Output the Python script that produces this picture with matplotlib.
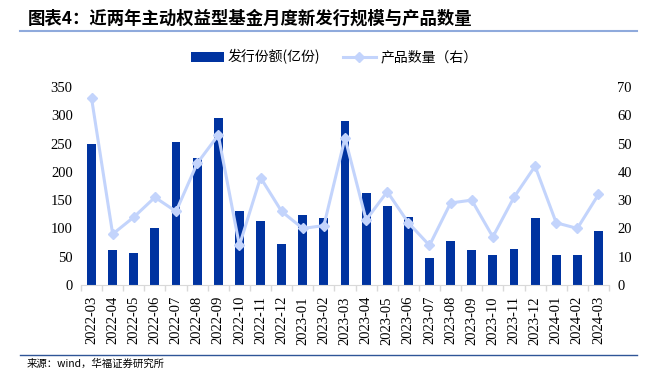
import matplotlib
matplotlib.use('Agg')
import matplotlib.pyplot as plt
from matplotlib.lines import Line2D
import numpy as np

plt.rcParams['font.family'] = ['Noto Sans CJK SC', 'DejaVu Sans']

# 数据
months = ['2022-03', '2022-04', '2022-05', '2022-06', '2022-07', '2022-08', '2022-09',
          '2022-10', '2022-11', '2022-12', '2023-01', '2023-02', '2023-03', '2023-04',
          '2023-05', '2023-06', '2023-07', '2023-08', '2023-09', '2023-10', '2023-11',
          '2023-12', '2024-01', '2024-02', '2024-03']
issue_size = [249, 62, 56, 101, 252, 225, 295, 131, 114, 73, 124, 118, 290, 162,
              139, 120, 47, 78, 61, 53, 64, 119, 53, 53, 96]
fund_count = [66, 18, 24, 31, 26, 43, 53, 14, 38, 26, 20, 21, 52, 23,
              33, 22, 14, 29, 30, 17, 31, 42, 22, 20, 32]

bar_color = '#0033A0'
line_color = '#C3D4FC'
num_font = 'Liberation Serif'

fig = plt.figure(figsize=(6.57, 3.77), dpi=100)
ax = fig.add_axes([81 / 657, 1 - 285 / 377, 528 / 657, 198 / 377])
ax2 = ax.twinx()

x = np.arange(len(months))
bars = ax.bar(x, issue_size, width=0.42, color=bar_color, zorder=2)
ln, = ax2.plot(x, fund_count, color=line_color, lw=2.2, marker='D', markersize=5,
               zorder=3)

ax.set_xlim(-0.5, len(months) - 0.5)
ax.set_ylim(0, 350)
ax.set_yticks(range(0, 351, 50))
ax2.set_ylim(0, 70)
ax2.set_yticks(range(0, 71, 10))

ax.set_xticks(x)
ax.set_xticklabels(months, rotation=90, family=num_font, fontsize=10.5)
ax.set_xticks(np.arange(-0.5, len(months), 1), minor=True)
ax.tick_params(axis='x', which='major', length=0, pad=8)
ax.tick_params(axis='x', which='minor', length=4, color='#D9D9D9', width=1)
ax.tick_params(axis='y', length=0, pad=6)
ax2.tick_params(axis='y', length=0, pad=6)
for lab in ax.get_yticklabels() + ax2.get_yticklabels():
    lab.set_family(num_font)
    lab.set_fontsize(10.5)

for a in (ax, ax2):
    for s in ('top', 'left', 'right'):
        a.spines[s].set_visible(False)
    a.spines['bottom'].set_color('#D9D9D9')
ax2.spines['bottom'].set_visible(False)

# 标题与线条
fig.text(28 / 657, 1 - 19 / 377, '图表4：近两年主动权益型基金月度新发行规模与产品数量',
         fontsize=12.5, fontweight='bold', va='center', ha='left')
fig.add_artist(Line2D([20 / 657, 637 / 657], [1 - 31 / 377, 1 - 31 / 377],
                      color='#8FAADC', lw=1.5))
fig.add_artist(Line2D([20 / 657, 637 / 657], [1 - 355 / 377, 1 - 355 / 377],
                      color='#2F5597', lw=1))
fig.text(27 / 657, 1 - 364 / 377, '来源：wind，华福证券研究所', fontsize=7.5,
         va='center', ha='left')

fig.legend([bars, ln], ['发行份额(亿份)', '产品数量（右）'], loc='center',
           bbox_to_anchor=(334 / 657, 1 - 57 / 377), ncol=2, frameon=False,
           fontsize=10, handlelength=2.4, columnspacing=1.6, handletextpad=0.3)

fig.savefig('out.png', dpi=100)
